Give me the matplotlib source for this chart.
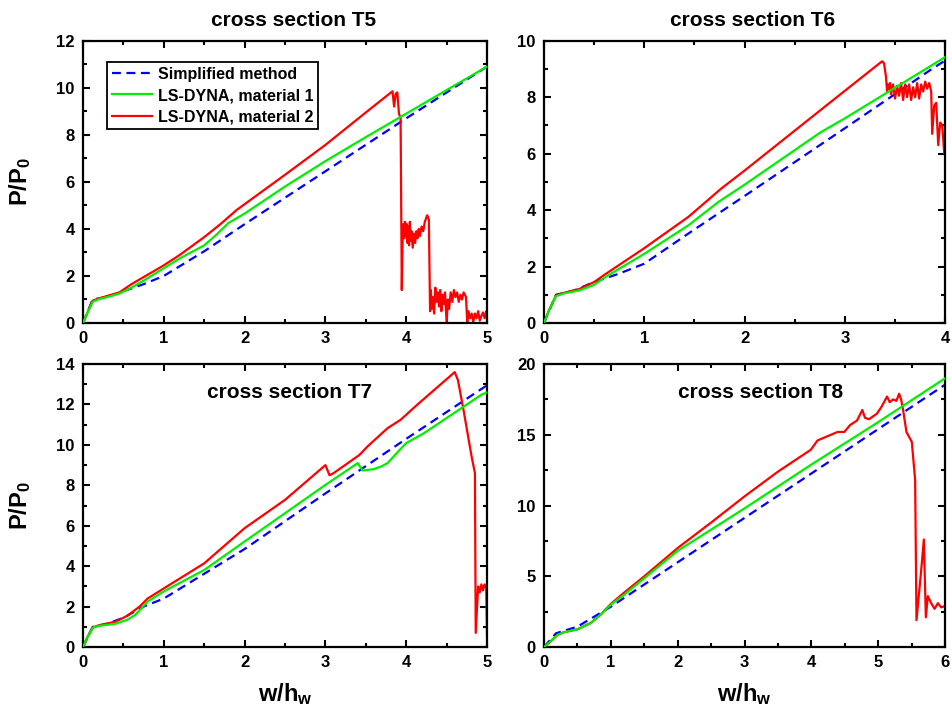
import matplotlib
matplotlib.use('Agg')
import matplotlib.pyplot as plt
from matplotlib import font_manager
from matplotlib.ticker import MultipleLocator

# --- data --- #
# cross section T5
t5_simp_x = [0, 0.12, 0.3, 0.5, 0.75, 1.0, 1.5, 2.0, 3.0, 4.0, 5.0]
t5_simp_y = [0, 1.0, 1.1, 1.35, 1.65, 2.0, 3.05, 4.2, 6.45, 8.7, 10.9]
t5_mat1_x = [0, 0.05, 0.12, 0.2, 0.3, 0.45, 0.6, 0.8, 1.0, 1.2, 1.5, 1.65, 1.8, 2.0, 2.5, 3.0, 3.5, 4.0, 4.5, 5.0]
t5_mat1_y = [0, 0.4, 0.9, 1.02, 1.1, 1.25, 1.5, 1.9, 2.33, 2.75, 3.3, 3.75, 4.25, 4.65, 5.8, 6.88, 7.9, 8.9, 9.9, 10.9]
t5_mat2_x = [0, 0.05, 0.12, 0.2, 0.3, 0.45, 0.6, 0.8, 1.0, 1.2, 1.5, 1.7, 1.9, 2.0, 2.5, 3.0, 3.5, 3.83, 3.85,
             3.87, 3.89, 3.91, 3.93, 3.945, 3.955, 3.965, 3.975, 3.985, 3.995, 4.005, 4.015, 4.025, 4.035,
             4.045, 4.055, 4.065, 4.08, 4.095, 4.11, 4.125, 4.14, 4.155, 4.17, 4.19, 4.21, 4.23, 4.26, 4.28,
             4.295, 4.305, 4.315, 4.33, 4.345, 4.36, 4.375, 4.39, 4.405, 4.42, 4.435, 4.45, 4.465, 4.48, 4.5,
             4.515, 4.53, 4.55, 4.57, 4.59, 4.61, 4.63, 4.65, 4.67, 4.69, 4.71, 4.74, 4.755, 4.77, 4.79, 4.81,
             4.83, 4.85, 4.87, 4.89, 4.91, 4.93, 4.95, 4.97, 4.99, 5.0]
t5_mat2_y = [0, 0.4, 0.95, 1.05, 1.15, 1.3, 1.65, 2.05, 2.45, 2.9, 3.65, 4.2, 4.8, 5.05, 6.3, 7.57, 8.95, 9.85, 9.2,
             9.75, 9.8, 8.9, 8.7, 1.4, 3.5, 4.2, 3.6, 4.3, 3.7, 4.2, 3.4, 4.1, 3.3,
             4.3, 3.5, 3.9, 3.2, 3.8, 3.4, 3.9, 3.6, 4.0, 3.7, 4.1, 3.9, 4.3, 4.58, 4.4,
             0.5, 1.4, 0.6, 1.1, 0.4, 1.5, 0.9, 1.3, 0.7, 1.4, 0.5, 1.2, 0.8, 1.3, 0.0,
             1.0, 0.6, 1.3, 0.9, 1.4, 1.1, 1.3, 0.9, 1.2, 1.0, 1.3, 1.1, 0.0, 0.5, 0.2, 0.4,
             0.05, 0.4, 0.2, 0.5, 0.1, 0.3, 0.45, 0.2, 0.5, 0.3]

# cross section T6
t6_simp_x = [0, 0.12, 0.3, 0.5, 0.75, 1.0, 1.44, 2.0, 3.0, 3.88, 4.0]
t6_simp_y = [0, 1.0, 1.15, 1.45, 1.75, 2.1, 3.17, 4.5, 6.9, 9.03, 9.3]
t6_mat1_x = [0, 0.05, 0.12, 0.2, 0.35, 0.5, 0.6, 1.0, 1.44, 1.74, 2.0, 2.76, 3.0, 4.0]
t6_mat1_y = [0, 0.45, 0.95, 1.05, 1.15, 1.35, 1.6, 2.45, 3.46, 4.29, 4.9, 6.76, 7.25, 9.42]
t6_mat2_x = [0, 0.05, 0.12, 0.2, 0.35, 0.5, 0.6, 1.0, 1.44, 1.77, 2.0, 2.76, 3.37, 3.39, 3.41, 3.42,
             3.43, 3.44, 3.45, 3.46, 3.48, 3.50, 3.52, 3.54, 3.56, 3.58, 3.60, 3.62, 3.64, 3.66, 3.68,
             3.70, 3.72, 3.74, 3.76, 3.78, 3.80, 3.82, 3.84, 3.86, 3.87, 3.89, 3.91, 3.93, 3.95, 3.97,
             3.99, 4.0]
t6_mat2_y = [0, 0.45, 0.97, 1.07, 1.2, 1.45, 1.7, 2.65, 3.76, 4.77, 5.4, 7.55, 9.27, 9.2, 8.7, 8.2,
             8.45, 8.3, 8.5, 8.1, 8.45, 7.95, 8.4, 8.05, 8.5, 7.9, 8.45, 8.0, 8.45, 7.9, 8.35,
             8.0, 8.5, 7.95, 8.45, 8.2, 8.55, 8.3, 8.5, 8.2, 6.7, 7.7, 7.8, 6.3, 7.1, 7.0,
             6.0, 6.1]

# cross section T7
t7_simp_x = [0, 0.12, 0.3, 0.5, 0.75, 1.0, 2.0, 3.0, 4.0, 5.0]
t7_simp_y = [0, 1.0, 1.15, 1.45, 2.0, 2.4, 4.85, 7.6, 10.3, 12.95]
t7_mat1_x = [0, 0.05, 0.12, 0.2, 0.4, 0.55, 0.65, 0.8, 1.0, 1.5, 2.0, 3.0, 3.4, 3.46, 3.6, 3.7, 3.77,
             3.9, 4.0, 4.22, 4.93, 5.0]
t7_mat1_y = [0, 0.45, 0.95, 1.05, 1.15, 1.35, 1.6, 2.25, 2.75, 3.81, 5.22, 8.02, 9.1, 8.73, 8.8, 8.95, 9.1,
             9.67, 10.09, 10.58, 12.48, 12.6]
t7_mat2_x = [0, 0.05, 0.12, 0.2, 0.4, 0.55, 0.7, 0.8, 1.0, 1.5, 2.0, 2.5, 3.0, 3.05, 3.1, 3.42, 3.52,
             3.77, 3.93, 4.14, 4.6, 4.64, 4.71, 4.81, 4.85, 4.86, 4.89, 4.91, 4.93, 4.95, 4.97, 4.99,
             5.0]
t7_mat2_y = [0, 0.45, 0.97, 1.08, 1.25, 1.55, 2.0, 2.4, 2.9, 4.14, 5.88, 7.28, 9.0, 8.5, 8.6, 9.5, 9.92,
             10.83, 11.24, 12.0, 13.6, 13.2, 11.7, 9.4, 8.6, 0.7, 3.0, 2.7, 3.1, 2.8, 3.1, 2.9,
             0.5]

# cross section T8
t8_simp_x = [0, 0.18, 0.5, 0.7, 1.0, 6.0]
t8_simp_y = [0, 0.97, 1.44, 2.0, 2.85, 18.55]
t8_mat1_x = [0, 0.1, 0.2, 0.3, 0.5, 0.7, 0.85, 1.0, 1.2, 2.0, 2.2, 3.0, 4.0, 5.0, 6.0]
t8_mat1_y = [0, 0.4, 0.85, 1.05, 1.25, 1.7, 2.3, 3.0, 3.7, 6.8, 7.4, 9.8, 12.9, 15.9, 19.0]
t8_mat2_x = [0, 0.1, 0.2, 0.3, 0.5, 0.7, 0.85, 1.0, 1.2, 1.5, 2.0, 2.5, 3.0, 3.5, 3.99, 4.09, 4.24,
             4.39, 4.49, 4.58, 4.68, 4.76, 4.8, 4.86, 4.92, 4.98, 5.05, 5.13, 5.17, 5.22, 5.27, 5.31,
             5.34, 5.37, 5.42, 5.5, 5.55, 5.57, 5.64, 5.68, 5.71, 5.74, 5.79, 5.84, 5.89, 5.94, 6.0]
t8_mat2_y = [0, 0.4, 0.85, 1.05, 1.25, 1.7, 2.3, 3.05, 3.85, 5.0, 7.0, 8.8, 10.65, 12.4, 13.94, 14.6, 14.9,
             15.2, 15.2, 15.7, 16.0, 16.75, 16.2, 16.1, 16.3, 16.5, 17.0, 17.7, 17.3, 17.5, 17.4, 17.9,
             17.5, 16.75, 15.2, 14.5, 11.8, 1.9, 5.4, 7.6, 2.1, 3.6, 3.1, 2.7, 3.1, 2.8, 2.9]

titles = ['cross section T5', 'cross section T6', 'cross section T7', 'cross section T8']
xmaxs = [5, 4, 5, 6]
ymaxs = [12, 10, 14, 20]
ymajor = [2, 2, 2, 5]
legend_labels = ['Simplified method', 'LS-DYNA, material 1', 'LS-DYNA, material 2']

# --- style --- #
names = {f.name for f in font_manager.fontManager.ttflist}
fam = 'Liberation Sans Narrow' if 'Liberation Sans Narrow' in names else 'Liberation Sans'
narrow = fam == 'Liberation Sans Narrow'
plt.rcParams['font.family'] = [fam, 'DejaVu Sans']
plt.rcParams['font.weight'] = 'bold'
plt.rcParams['mathtext.fontset'] = 'custom'
plt.rcParams['mathtext.rm'] = fam + ':bold'
plt.rcParams['mathtext.bf'] = fam + ':bold'
plt.rcParams['mathtext.it'] = fam + ':bold'

# the reference uses a condensed face; with the regular width shrink a bit
title_size = 18 if narrow else 15
tick_size = 13 if narrow else 12
legend_size = 13.5 if narrow else 11.5
label_size = 19 if narrow else 17

blue = '#0000ff'
green = '#00ee00'
red = '#ff0000'

fig = plt.figure(figsize=(9.52, 7.19), dpi=100)
positions = [[0.0872, 0.5508, 0.4244, 0.3926],
             [0.5714, 0.5508, 0.4215, 0.3926],
             [0.0872, 0.1001, 0.4244, 0.3936],
             [0.5714, 0.1001, 0.4215, 0.3936]]

data = [(t5_simp_x, t5_simp_y, t5_mat1_x, t5_mat1_y, t5_mat2_x, t5_mat2_y),
        (t6_simp_x, t6_simp_y, t6_mat1_x, t6_mat1_y, t6_mat2_x, t6_mat2_y),
        (t7_simp_x, t7_simp_y, t7_mat1_x, t7_mat1_y, t7_mat2_x, t7_mat2_y),
        (t8_simp_x, t8_simp_y, t8_mat1_x, t8_mat1_y, t8_mat2_x, t8_mat2_y)]

for i in range(4):
    ax = fig.add_axes(positions[i])
    sx, sy, gx, gy, rx, ry = data[i]
    ax.plot(sx, sy, color=blue, lw=1.6, dashes=(4, 2.5), label=legend_labels[0], zorder=2)
    ax.plot(gx, gy, color=green, lw=1.6, label=legend_labels[1], zorder=3)
    ax.plot(rx, ry, color=red, lw=1.6, label=legend_labels[2], zorder=2.5)
    ax.set_xlim(0, xmaxs[i])
    ax.set_ylim(0, ymaxs[i])
    ax.xaxis.set_major_locator(MultipleLocator(1))
    ax.xaxis.set_minor_locator(MultipleLocator(0.5))
    ax.yaxis.set_major_locator(MultipleLocator(ymajor[i]))
    ax.yaxis.set_minor_locator(MultipleLocator(ymajor[i] / 2))
    ax.tick_params(which='both', direction='in', top=True, right=True, width=1.5)
    ax.tick_params(which='major', length=5, labelsize=tick_size, pad=6)
    ax.tick_params(which='minor', length=3)
    for sp in ax.spines.values():
        sp.set_linewidth(1.6)
    for lab in ax.get_xticklabels() + ax.get_yticklabels():
        lab.set_fontweight('bold')
    if i < 2:
        ax.text(0.52, 1.072, titles[i], transform=ax.transAxes, ha='center', va='center',
                fontsize=title_size, fontweight='bold')
    else:
        ax.text(0.51 if i == 2 else 0.54, 0.9, titles[i], transform=ax.transAxes,
                ha='center', va='center', fontsize=title_size, fontweight='bold')
        ax.set_xlabel(r'$\mathbf{w/h_w}$', fontsize=label_size)
        ax.xaxis.set_label_coords(0.5, -0.12)
    if i % 2 == 0:
        ax.set_ylabel(r'$\mathbf{P/P_0}$', fontsize=label_size)
        ax.yaxis.set_label_coords(-0.125, 0.5)
    if i == 0:
        leg = ax.legend(loc='upper left', bbox_to_anchor=(0.059, 0.925), borderaxespad=0,
                        fontsize=legend_size, fancybox=False, edgecolor='black', framealpha=1,
                        handlelength=2.5, handletextpad=0.4, borderpad=0.3, labelspacing=0.4)
        leg.get_frame().set_linewidth(1.3)

fig.savefig('out.png', dpi=100)
